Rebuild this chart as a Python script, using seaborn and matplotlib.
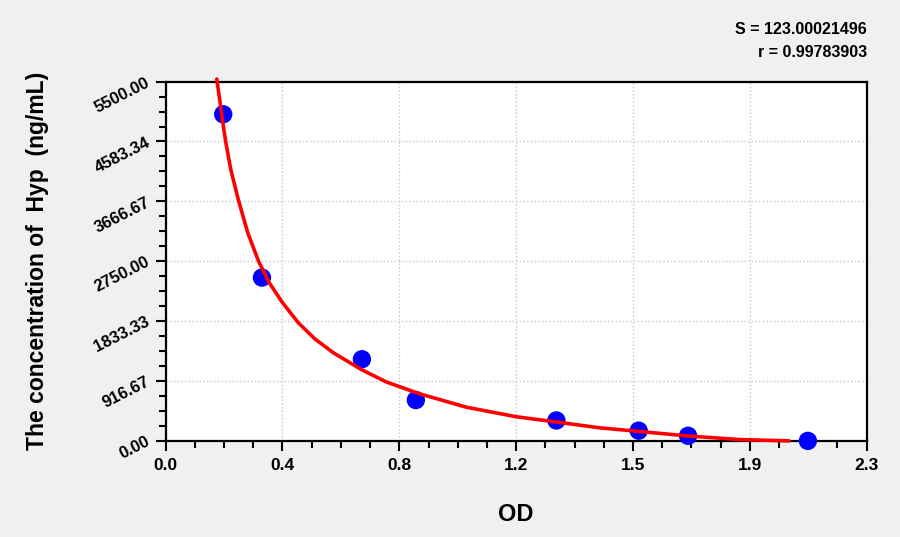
import numpy as np
import pandas as pd
import matplotlib
matplotlib.use("Agg")
import matplotlib.pyplot as plt
import seaborn as sns
from matplotlib.ticker import AutoMinorLocator

# standard points (OD vs concentration)
od_values = [0.189, 0.316, 0.644, 0.821, 1.282, 1.552, 1.714, 2.107]
conc_values = [5000, 2500, 1250, 625, 312.5, 156, 78, 0]

# fitted curve
curve_od = [0.168, 0.186, 0.197, 0.214, 0.240, 0.270, 0.305, 0.340, 0.383, 0.435,
            0.490, 0.550, 0.643, 0.725, 0.834, 0.987, 1.150, 1.282, 1.424, 1.534,
            1.714, 1.884, 2.045]
curve_conc = [5540, 4930, 4583, 4150, 3667, 3180, 2750, 2420, 2120, 1810,
              1560, 1350, 1090, 900, 720, 515, 370, 289, 200, 153,
              75, 20, 0]

x_labels = ["0.0", "0.4", "0.8", "1.2", "1.5", "1.9", "2.3"]
y_labels = ["0.00", "916.67", "1833.33", "2750.00", "3666.67", "4583.34", "5500.00"]

s_text = "S = 123.00021496"
r_text = "r = 0.99783903"

sns.set_theme(style="ticks")
plt.rcParams["font.family"] = ["Liberation Sans", "DejaVu Sans"]
plt.rcParams["font.weight"] = "bold"
for key in ["text.color", "axes.labelcolor", "xtick.color", "ytick.color"]:
    plt.rcParams[key] = "black"

pts = pd.DataFrame({"OD": od_values, "conc": conc_values})
curve = pd.DataFrame({"OD": curve_od, "conc": curve_conc})

fig = plt.figure(figsize=(9, 5.37), dpi=100, facecolor="#f0f0f0")
ax = fig.add_axes([0.184, 0.179, 0.779, 0.669])
ax.set_facecolor("white")

sns.scatterplot(data=pts, x="OD", y="conc", ax=ax, color="#0000ff", s=175,
                edgecolor="none", zorder=3, clip_on=False)
sns.lineplot(data=curve, x="OD", y="conc", ax=ax, color="#ff0000", linewidth=2.6,
             zorder=4, clip_on=False)

ax.set_xlim(0, 2.3)
ax.set_ylim(0, 5500)
ax.set_xticks(np.linspace(0, 2.3, 7))
ax.set_xticklabels(x_labels, fontsize=12.5, fontweight="bold")
ax.set_yticks(np.linspace(0, 5500, 7))
ax.set_yticklabels(y_labels, rotation=27, ha="right", va="center",
                   rotation_mode="anchor", fontsize=12, fontweight="bold")
ax.xaxis.set_minor_locator(AutoMinorLocator(4))
ax.yaxis.set_minor_locator(AutoMinorLocator(4))

ax.tick_params(axis="both", which="major", direction="out", length=7, width=1.5,
               color="black", pad=5)
ax.tick_params(axis="both", which="minor", direction="out", length=5, width=1.5,
               color="black")

ax.grid(True, which="major", color="#c8c8c8", linestyle=":", linewidth=1)
for sp in ax.spines.values():
    sp.set_visible(True)
    sp.set_color("black")
    sp.set_linewidth(1.6)

ax.set_xlabel("OD", fontsize=17, fontweight="bold", labelpad=22)
ax.set_ylabel("The concentration of  Hyp  (ng/mL)", fontsize=16.5, fontweight="bold",
              labelpad=31)

fig.text(0.963, 0.945, s_text, ha="right", va="center", fontsize=11.5, fontweight="bold")
fig.text(0.963, 0.903, r_text, ha="right", va="center", fontsize=11.5, fontweight="bold")

fig.savefig("out.png", dpi=100, facecolor=fig.get_facecolor())
